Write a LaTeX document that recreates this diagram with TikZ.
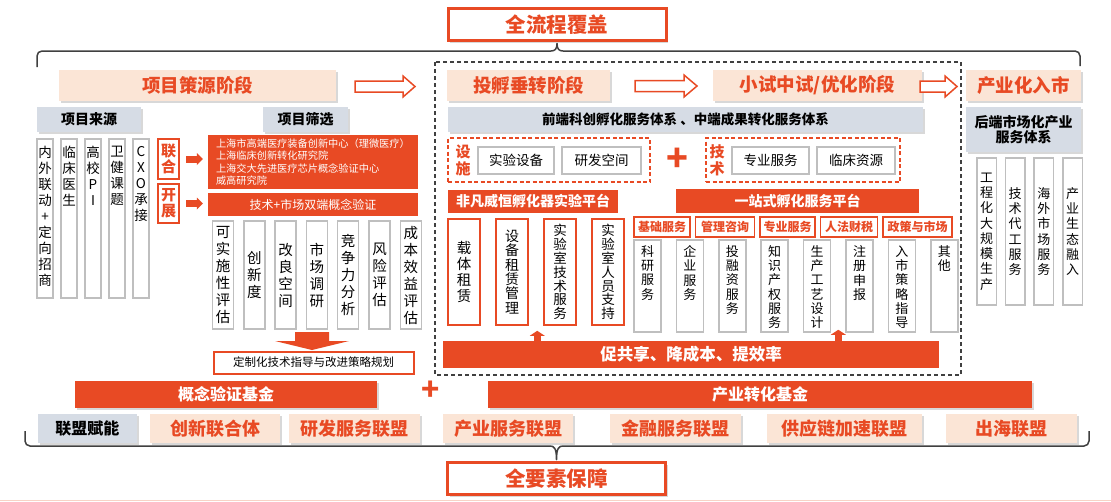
\documentclass[tikz,border=0pt]{standalone}
\usepackage{fontspec}
\setmainfont{Noto Sans CJK SC}
\usetikzlibrary{positioning,shadows,arrows.meta}

\definecolor{accent}{HTML}{E84A24}
\definecolor{peach}{HTML}{FBE5D6}
\definecolor{bluegray}{HTML}{D6DCE5}
\definecolor{grayline}{HTML}{BFBFBF}
\definecolor{darkline}{HTML}{404040}
\definecolor{pinkline}{HTML}{F8D3C6}

\newcommand\setfs[2]{\fontsize{#1}{#2}\selectfont}
\makeatletter
\newcommand\vstack[1]{\vstack@a#1\@nil}
\def\vstack@a#1{#1\vstack@b}
\def\vstack@b#1{\ifx#1\@nil\expandafter\@gobble\else\expandafter\@firstofone\fi{\\#1\vstack@b}}
\makeatother

\tikzset{
  softshadow/.style={drop shadow={shadow xshift=2pt,shadow yshift=-2pt,opacity=.3}},
  bigtitle/.style={draw=accent,line width=3pt,fill=white,softshadow,text=accent,font=\setfs{20.5}{22}\bfseries,minimum width=218pt,minimum height=32pt,inner sep=0pt},
  stage/.style={fill=peach,softshadow,text=accent,font=\setfs{18.5}{20}\bfseries,minimum height=31pt,inner sep=0pt},
  head/.style={fill=bluegray,softshadow,font=\setfs{14}{15}\bfseries,minimum height=25pt,inner sep=0pt,align=center},
  redbar/.style={fill=accent,text=white,font=\setfs{14}{16}\bfseries,inner sep=0pt},
  graybox/.style={draw=grayline,line width=1.5pt,inner sep=0pt,align=center},
  redbox/.style={draw=accent,line width=1.5pt,fill=white,inner sep=0pt,align=center},
  tag/.style={draw=accent,line width=1.5pt,fill=white,text=accent,font=\setfs{12}{13}\bfseries,minimum height=20pt,inner sep=0pt},
  allybox/.style={fill=peach,softshadow,text=accent,font=\setfs{18}{20}\bfseries,minimum height=29pt,inner sep=0pt},
  reddash/.style={draw=accent,line width=2pt,dash pattern=on 4pt off 2.5pt,inner sep=0pt,minimum height=44pt},
  hollow/.style={draw=accent,line width=1.5pt,fill=white,line join=miter},
  fat/.style={accent,line width=7pt,-{Triangle[width=12pt,length=6pt,line width=0pt]}},
  uparrow/.style={accent,line width=7pt,-{Triangle[width=15pt,length=5pt,line width=0pt]}},
  brace/.style={darkline,line width=1.5pt,line join=round},
  srcbox/.style={graybox,minimum width=16pt,minimum height=159pt},
  srctext/.style={anchor=north,yshift=-8pt,align=center,inner sep=0pt,font=\setfs{13.5}{16}},
  evalbox/.style={graybox,font=\setfs{14.5}{17},minimum width=21pt,minimum height=108pt},
  labbox/.style={redbox,font=\setfs{14.5}{16},minimum width=32pt,minimum height=106pt},
  svcbox/.style={graybox,minimum width=27pt,minimum height=92pt},
  svctext/.style={anchor=north,yshift=-6pt,align=center,inner sep=0pt,font=\setfs{13}{14.3}},
  mktbox/.style={graybox,font=\setfs{13}{15.3},minimum width=19.5pt,minimum height=147pt},
  choice/.style={graybox,font=\setfs{13.5}{15},minimum height=27pt}
}

\begin{document}
\begin{tikzpicture}[x=1pt,y=-1pt]
\useasboundingbox[fill=white] (0,0) rectangle (1111,501);
\draw[pinkline,line width=1pt] (0,500) -- (1111,500);

\node[bigtitle] (whole) at (557,24.5) {全流程覆盖};

\node[stage,minimum width=277pt] (source) at (197.5,85) {项目策源阶段};
\node[stage,minimum width=163pt] (incub) at (528.5,85) {投孵垂转阶段};
\node[stage,minimum width=209pt] (pilot) at (817.5,85) {小试中试/优化阶段};
\node[stage,minimum width=115pt] (market) at (1023.5,85) {产业化入市};
\draw[hollow] (355,81) -- (403,81) -- (403,76) -- (415,86.5) -- (403,97) -- (403,92) -- (355,92) -- cycle;
\draw[hollow] (635,80.5) -- (684,80.5) -- (684,75) -- (697,86) -- (684,97) -- (684,91.5) -- (635,91.5) -- cycle;
\draw[hollow] (920,81) -- (945,81) -- (945,76) -- (957,86.5) -- (945,97) -- (945,92) -- (920,92) -- cycle;

\node[head,minimum width=104pt] (srchead) at (89,119.5) {项目来源};
\node[head,minimum width=85pt] (pickhead) at (305.5,119.5) {项目筛选};

\node[srcbox,label={[srctext]north:\vstack{内外联动+定向招商}}] (s1) at (45,218.5) {};
\node[srcbox,label={[srctext]north:\vstack{临床医生}}] (s2) [right=6.5pt of s1] {};
\node[srcbox,label={[srctext]north:\vstack{高校PI}}] (s3) [right=6.5pt of s2] {};
\node[srcbox,label={[srctext]north:\vstack{卫健课题}}] (s4) [right=6.5pt of s3] {};
\node[srcbox,label={[srctext]north:\vstack{CXO承接}}] (s5) [right=6.5pt of s4] {};

\node[redbox,line width=2pt,text=accent,font=\setfs{15}{16}\bfseries,minimum width=21pt,minimum height=40pt] (unite) at (168.5,159) {联\\合};
\node[redbox,line width=2pt,text=accent,font=\setfs{15}{16}\bfseries,minimum width=21pt,minimum height=39pt] (launch) at (168.5,203.5) {开\\展};
\node[fill=accent,text=white,font=\setfs{10.2}{12.5},text width=194pt,align=left,minimum width=210pt,minimum height=54pt,inner sep=0pt] (inst) at (313,162) {上海市高端医疗装备创新中心（理微医疗）\\上海临床创新转化研究院\\上海交大先进医疗芯片概念验证中心\\威高研究院};
\node[redbar,font=\setfs{12}{14},minimum width=210pt,minimum height=23pt] (verify) at (313,204.5) {技术+市场双端概念验证};
\draw[fat] ([xshift=6pt]unite.east) -- ([xshift=-5pt]unite.east -| inst.west);
\draw[fat] ([xshift=6pt]launch.east) -- ([xshift=-5pt]launch.east -| verify.west);

\node[evalbox] (e1) at (223,275) {\vstack{可实施性评估}};
\node[evalbox] (e2) [right=8.8pt of e1] {\vstack{创新度}};
\node[evalbox] (e3) [right=8.8pt of e2] {\vstack{改良空间}};
\node[evalbox] (e4) [right=8.8pt of e3] {\vstack{市场调研}};
\node[evalbox] (e5) [right=8.8pt of e4] {\vstack{竞争力分析}};
\node[evalbox] (e6) [right=8.8pt of e5] {\vstack{风险评估}};
\node[evalbox] (e7) [right=8.8pt of e6] {\vstack{成本效益评估}};
\node[redbox,line width=2pt,font=\setfs{11.5}{13},minimum width=200pt,minimum height=22pt] (plan) at (313.5,362.5) {定制化技术指导与改进策略规划};
\fill[accent] (295,332) -- (329,332) -- (329,341) -- (349,341) -- (312,350) -- (275,341) -- (295,341) -- cycle;

\draw[darkline,line width=1.5pt,dash pattern=on 4pt off 3pt] (435,62) rectangle (961,375);
\node[head,minimum width=475pt,font=\setfs{13.5}{15}\bfseries] (front) at (685.5,119.5) {前端科创孵化服务体系 、中端成果转化服务体系};

\node[reddash,minimum width=202pt] (facil) at (549,160) {};
\node[reddash,minimum width=194pt] (tech) at (803,160) {};
\node[text=accent,font=\setfs{15}{17}\bfseries,align=center,inner sep=0pt] (faciltag) at (463,160) {设\\施};
\node[text=accent,font=\setfs{15}{17}\bfseries,align=center,inner sep=0pt] (techtag) at (717,160) {技\\术};
\node[choice,minimum width=76pt] (equip) at (516,160.5) {实验设备};
\node[choice,minimum width=79pt] (space) at (601.5,160.5) {研发空间};
\node[choice,minimum width=77pt] (prof) at (770.5,160.5) {专业服务};
\node[choice,minimum width=78pt] (clinic) at (856,160.5) {临床资源};
\node[text=accent,font=\setfs{36}{36}\bfseries,inner sep=0pt] (plusa) at (677,160) {+};

\node[redbar,minimum width=170pt,minimum height=23pt] (lab) at (533,201.5) {非凡威恒孵化器实验平台};
\node[redbar,minimum width=243pt,minimum height=24pt] (onestop) at (797.5,201) {一站式孵化服务平台};

\node[labbox] (l1) at (464,272) {\vstack{载体租赁}};
\node[labbox,font=\setfs{14}{14.3}] (l2) [right=14.5pt of l1] {\vstack{设备租赁管理}};
\node[labbox,font=\setfs{13.5}{13.9}] (l3) [right=14.5pt of l2] {\vstack{实验室技术服务}};
\node[labbox,font=\setfs{13.5}{13.9}] (l4) [right=14.5pt of l3] {\vstack{实验室人员支持}};

\node[tag,minimum width=56pt] (t1) at (662,227) {基础服务};
\node[tag,minimum width=59pt] (t2) [right=4pt of t1] {管理咨询};
\node[tag,minimum width=55pt] (t3) [right=4pt of t2] {专业服务};
\node[tag,minimum width=57pt] (t4) [right=4pt of t3] {人法财税};
\node[tag,minimum width=69pt] (t5) [right=4pt of t4] {政策与市场};

\node[svcbox,label={[svctext]north:\vstack{科研服务}}] (v1) at (647.5,286) {};
\node[svcbox,label={[svctext]north:\vstack{企业服务}}] (v2) [right=13.9pt of v1] {};
\node[svcbox,label={[svctext]north:\vstack{投融资服务}}] (v3) [right=13.9pt of v2] {};
\node[svcbox,label={[svctext]north:\vstack{知识产权服务}}] (v4) [right=13.9pt of v3] {};
\node[svcbox,label={[svctext]north:\vstack{生产工艺设计}}] (v5) [right=13.9pt of v4] {};
\node[svcbox,label={[svctext]north:\vstack{注册申报}}] (v6) [right=13.9pt of v5] {};
\node[svcbox,label={[svctext]north:\vstack{入市策略指导}}] (v7) [right=13.9pt of v6] {};
\node[svcbox,label={[svctext]north:\vstack{其他}}] (v8) [right=13.9pt of v7] {};

\node[redbar,font=\setfs{16.5}{18}\bfseries,minimum width=496pt,minimum height=27pt] (share) at (691,354.5) {促共享、降成本、提效率};
\draw[uparrow] ([xshift=-6pt]l3.south west |- share.north) -- ([xshift=-6pt,yshift=-5pt]l3.south west);
\draw[uparrow] ([xshift=7pt]v5.south east |- share.north) -- ([xshift=7pt,yshift=3pt]v5.south east);

\node[head,minimum width=115pt,minimum height=45pt] (back) at (1023.5,129.5) {后端市场化产业\\服务体系};
\node[mktbox] (m1) at (986.5,231.5) {\vstack{工程化大规模生产}};
\node[mktbox] (m2) [right=7.7pt of m1] {\vstack{技术代工服务}};
\node[mktbox] (m3) [right=7.7pt of m2] {\vstack{海外市场服务}};
\node[mktbox] (m4) [right=7.7pt of m3] {\vstack{产业生态融入}};

\node[redbar,softshadow,font=\setfs{16}{18}\bfseries,minimum width=302pt,minimum height=27pt] (pocfund) at (226,394.5) {概念验证基金};
\node[redbar,softshadow,font=\setfs{16}{18}\bfseries,minimum width=544pt,minimum height=27pt] (indfund) at (760,394.5) {产业转化基金};
\node[text=accent,font=\setfs{30}{30}\bfseries,inner sep=0pt] (plusb) at (430.5,391) {+};

\node[head,font=\setfs{16}{18}\bfseries,minimum width=99.5pt,minimum height=29pt] (ally) at (87.25,428.5) {联盟赋能};
\node[allybox,minimum width=130pt] (a1) at (215,428.5) {创新联合体};
\node[allybox,minimum width=131pt] (a2) at (354.5,428.5) {研发服务联盟};
\node[allybox,minimum width=130pt] (a3) at (508,428.5) {产业服务联盟};
\node[allybox,minimum width=131pt] (a4) at (675.5,428.5) {金融服务联盟};
\node[allybox,minimum width=155pt] (a5) at (844.5,428.5) {供应链加速联盟};
\node[allybox,minimum width=131pt] (a6) at (1011.5,428.5) {出海联盟};

\node[bigtitle] (allfactor) at (556.5,478.5) {全要素保障};

\draw[brace,rounded corners=5pt] (37,67) |- (551,51);
\draw[brace] (551,51) .. controls (555,51) and (557,49) .. ([yshift=-1.5pt]whole.south) .. controls (557,49) and (559,51) .. (563,51);
\draw[brace,rounded corners=5pt] (563,51) -| (1080,66);
\draw[brace,rounded corners=5pt] (25,431) |- (550,446);
\draw[brace] (550,446) .. controls (554,446) and (556.5,448) .. ([yshift=1.5pt]allfactor.north) .. controls (556.5,448) and (559,446) .. (563,446);
\draw[brace,rounded corners=5pt] (563,446) -| (1089,431);
\end{tikzpicture}
\end{document}
